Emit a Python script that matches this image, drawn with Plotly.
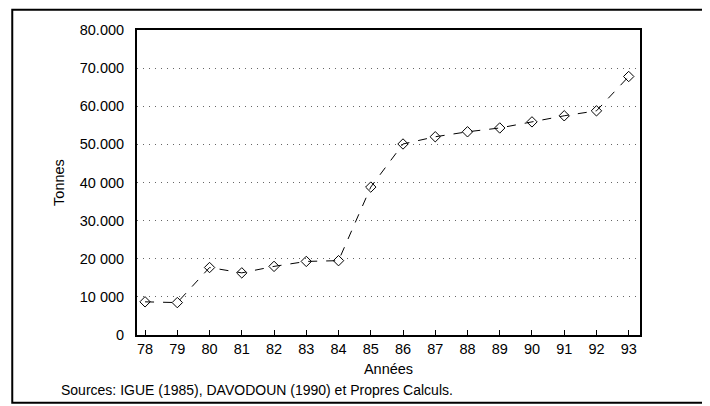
import plotly.graph_objects as go

# Production by year (tonnes)
years = [78, 79, 80, 81, 82, 83, 84, 85, 86, 87, 88, 89, 90, 91, 92, 93]
tonnes = [8700, 8500, 17700, 16300, 18000, 19300, 19500, 38800,
          50100, 52000, 53300, 54300, 55900, 57500, 58800, 67800]

y_ticks = [0, 10000, 20000, 30000, 40000, 50000, 60000, 70000, 80000]
y_tick_text = ["0", "10 000", "20 000", "30.000", "40 000",
               "50.000", "60.000", "70.000", "80.000"]

font_family = "Liberation Sans, Arial, sans-serif"

fig = go.Figure()

fig.add_trace(go.Scatter(
    x=years,
    y=tonnes,
    mode="lines+markers",
    line=dict(color="black", width=1, dash="dash"),
    marker=dict(symbol="diamond-open", size=8, color="black", line=dict(width=1)),
    showlegend=False,
))

# page body has an 8px margin, so the figure is sized to fit inside it
fig.update_layout(
    width=702,
    height=398,
    margin=dict(l=129, r=70, t=22, b=71),
    paper_bgcolor="white",
    plot_bgcolor="white",
    font=dict(family=font_family, color="black", size=14),
    annotations=[
        dict(text="Sources: IGUE (1985), DAVODOUN (1990) et Propres Calculs.",
             xref="paper", yref="paper", x=-0.156, y=-0.18,
             xanchor="left", yanchor="middle", showarrow=False,
             font=dict(size=14)),
    ],
    shapes=[
        dict(type="rect", xref="paper", yref="paper",
             x0=-0.248, x1=1.137, y0=-0.222, y1=1.066,
             line=dict(color="black", width=2)),
    ],
)

fig.update_xaxes(
    range=[77.75, 93.35],
    tickvals=years,
    ticktext=[str(y) for y in years],
    ticks="inside", ticklen=5, tickcolor="black",
    showline=True, linecolor="black", linewidth=2, mirror=True,
    showgrid=False, zeroline=False, automargin=False,
    tickfont=dict(size=14.5),
    title=dict(text="Années", font=dict(size=14.5), standoff=7),
)

fig.update_yaxes(
    range=[0, 80000],
    tickvals=y_ticks,
    ticktext=y_tick_text,
    showline=True, linecolor="black", linewidth=2, mirror=True,
    showgrid=True, gridcolor="#666666", griddash="1px,5px", gridwidth=1,
    zeroline=False, automargin=False,
    ticks="", ticklabelstandoff=8,
    tickfont=dict(size=14.5),
    title=dict(text="Tonnes", font=dict(size=14.5), standoff=12),
)

fig.write_html("out.html")
